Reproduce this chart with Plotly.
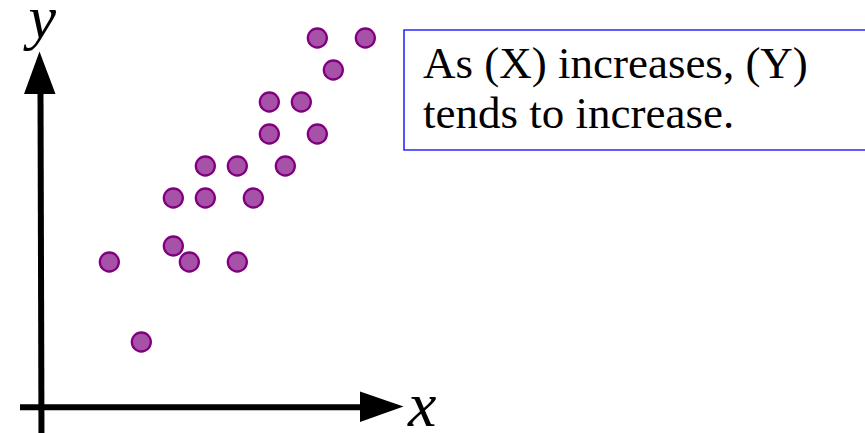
import plotly.graph_objects as go

# Scatter data (x, y) in grid units
x_vals = [6, 8, 10, 10, 11, 12, 12, 14, 14, 15, 16, 16, 17, 18, 19, 19, 20, 22]
y_vals = [9, 4, 13, 10, 9, 15, 13, 15, 9, 13, 19, 17, 15, 19, 17, 23, 21, 23]

caption_lines = ["As (X) increases, (Y)", "tends to increase."]
x_title = "x"
y_title = "y"

W, H = 865, 433


def px(xp):
    return xp / W


def py(yp):
    return 1 - yp / H


fig = go.Figure()
fig.add_trace(go.Scatter(
    x=x_vals, y=y_vals, mode="markers",
    marker=dict(size=19, color="#a652a9", line=dict(color="#800080", width=2.3)),
    hoverinfo="skip", showlegend=False,
))

shapes = []
# vertical axis line and arrowhead
shapes.append(dict(type="line", xref="paper", yref="paper",
                   x0=px(41.5), y0=py(440), x1=px(40.5), y1=py(92),
                   line=dict(color="black", width=6)))
shapes.append(dict(type="path", xref="paper", yref="paper",
                   path=f"M {px(39.5)} {py(51.5)} L {px(24)} {py(94)} L {px(55.5)} {py(94)} Z",
                   fillcolor="black", line=dict(color="black", width=0)))
# horizontal axis line and arrowhead
shapes.append(dict(type="line", xref="paper", yref="paper",
                   x0=px(20), y0=py(407.3), x1=px(362), y1=py(407.3),
                   line=dict(color="black", width=6)))
shapes.append(dict(type="path", xref="paper", yref="paper",
                   path=f"M {px(403.5)} {py(406.5)} L {px(360)} {py(391.5)} L {px(360)} {py(422)} Z",
                   fillcolor="black", line=dict(color="black", width=0)))
# caption frame
shapes.append(dict(type="rect", xref="paper", yref="paper",
                   x0=px(404), y0=py(150), x1=px(880), y1=py(30),
                   line=dict(color="#2a2aff", width=1.6), fillcolor="rgba(0,0,0,0)"))

annotations = []
for i, line in enumerate(caption_lines):
    annotations.append(dict(
        text=line, xref="paper", yref="paper", x=px(421), y=py(80 + 50 * i),
        xanchor="left", yanchor="bottom", showarrow=False, yshift=-10,
        font=dict(family="Liberation Serif", size=45, color="black"),
    ))
annotations.append(dict(
    text=f"&nbsp;<i>{y_title}</i>&nbsp;", xref="paper", yref="paper", x=px(42), y=py(17),
    xanchor="center", yanchor="middle", showarrow=False,
    font=dict(family="Liberation Serif", size=62, color="black"),
))
annotations.append(dict(
    text=f"&nbsp;<i>{x_title}</i>&nbsp;", xref="paper", yref="paper", x=px(422), y=py(404),
    xanchor="center", yanchor="middle", showarrow=False,
    font=dict(family="Liberation Serif", size=64, color="black"),
))

fig.update_layout(
    width=W, height=H,
    margin=dict(l=0, r=0, t=0, b=0),
    paper_bgcolor="white", plot_bgcolor="white",
    xaxis=dict(range=[-13.33 / 16, (W - 13.33) / 16], visible=False, fixedrange=True),
    yaxis=dict(range=[(406 - H) / 16, 406 / 16], visible=False, fixedrange=True),
    shapes=shapes, annotations=annotations,
)

fig.write_html("out.html")
